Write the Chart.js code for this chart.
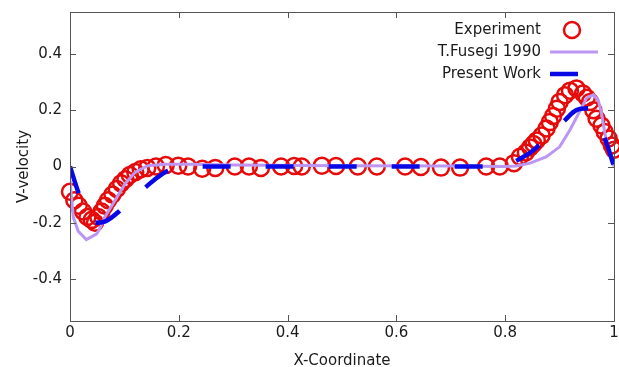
<!DOCTYPE html>
<html>
<head>
<meta charset="utf-8">
<script src="https://cdn.jsdelivr.net/npm/chart.js@4/dist/chart.umd.min.js"></script>
<style>
  body { margin: 0; background: #fff; }
  canvas { display: block; }
</style>
</head>
<body>
<canvas id="vChart" width="619" height="367"></canvas>
<script>
// axis ticks
const xTicks = [0, 0.2, 0.4, 0.6, 0.8, 1];
const yTicks = [-0.4, -0.2, 0, 0.2, 0.4];

// Experiment (circles)
const expX = [0.0, 0.008, 0.016, 0.024, 0.032, 0.04, 0.046, 0.052, 0.058, 0.064, 0.07, 0.078, 0.086, 0.094, 0.102, 0.11, 0.12, 0.13, 0.142, 0.158,
  0.176, 0.199, 0.217, 0.243, 0.267, 0.303, 0.329, 0.351, 0.388, 0.412, 0.426, 0.463, 0.489, 0.529, 0.564, 0.616, 0.645, 0.682, 0.717, 0.765, 0.79, 0.816,
  0.827, 0.838, 0.846, 0.852, 0.858, 0.867, 0.876, 0.882, 0.888, 0.895, 0.9, 0.91, 0.919, 0.931, 0.943, 0.95, 0.956, 0.962, 0.968, 0.977, 0.983, 0.99, 0.996, 1.0];
const expV = [-0.09, -0.12, -0.14, -0.16, -0.18, -0.19, -0.2, -0.18, -0.16, -0.14, -0.12, -0.1, -0.08, -0.06, -0.045, -0.03, -0.02, -0.01, -0.005, 0.0,
  0.005, 0.003, 0.0, -0.008, -0.005, 0.0, 0.0, -0.005, 0.0, 0.002, 0.0, 0.003, 0.002, 0.0, 0.0, 0.0, -0.002, -0.004, -0.004, 0.0, 0.0, 0.012,
  0.035, 0.05, 0.068, 0.08, 0.093, 0.11, 0.135, 0.158, 0.18, 0.206, 0.23, 0.254, 0.27, 0.278, 0.26, 0.245, 0.23, 0.2, 0.17, 0.146, 0.123, 0.1, 0.075, 0.06];

// T.Fusegi 1990
const fusX = [0, 0.006, 0.015, 0.03, 0.049, 0.055, 0.064, 0.083, 0.101, 0.12, 0.143, 0.175, 0.22, 0.3, 0.5, 0.7, 0.8, 0.82, 0.846, 0.876, 0.9, 0.919, 0.938, 0.95, 0.962, 0.971, 0.977, 0.983, 0.99, 1.0];
const fusV = [-0.05, -0.18, -0.23, -0.26, -0.24, -0.22, -0.18, -0.12, -0.062, -0.02, 0.003, 0.008, 0.008, 0.005, 0.003, 0.002, 0.0, 0.002, 0.012, 0.035, 0.07, 0.13, 0.2, 0.245, 0.255, 0.236, 0.19, 0.12, 0.06, 0.0];

// Present Work
const preX = [0, 0.015, 0.03, 0.045, 0.065, 0.09, 0.11, 0.135, 0.16, 0.18, 0.2, 0.25, 0.5, 0.8, 0.82, 0.85, 0.88, 0.91, 0.93, 0.955, 0.97, 0.985, 1.0];
const preV = [0, -0.09, -0.16, -0.2, -0.195, -0.16, -0.12, -0.08, -0.04, -0.015, -0.005, 0, 0, 0, 0.02, 0.055, 0.11, 0.165, 0.2, 0.207, 0.15, 0.09, 0];

const toPts = (xs, ys) => xs.map((x, i) => ({ x: x, y: ys[i] }));

const RED = '#e60a0a';
const PURPLE = '#bb96f2';
const BLUE = '#0808e6';
const FONT = 'DejaVu Sans';

// frame with inward ticks on all four sides (gnuplot style)
const framePlugin = {
  id: 'frame',
  afterDatasetsDraw(chart) {
    const { ctx, chartArea: a, scales } = chart;
    ctx.save();
    ctx.strokeStyle = '#555';
    ctx.lineWidth = 1;
    ctx.strokeRect(a.left + 0.5, a.top + 0.5, a.right - a.left, a.bottom - a.top);
    const tl = 6;
    ctx.beginPath();
    xTicks.forEach(v => {
      const px = Math.round(scales.x.getPixelForValue(v)) + 0.5;
      ctx.moveTo(px, a.bottom); ctx.lineTo(px, a.bottom - tl);
      ctx.moveTo(px, a.top); ctx.lineTo(px, a.top + tl);
    });
    yTicks.forEach(v => {
      const py = Math.round(scales.y.getPixelForValue(v)) + 0.5;
      ctx.moveTo(a.left, py); ctx.lineTo(a.left + tl, py);
      ctx.moveTo(a.right, py); ctx.lineTo(a.right - tl, py);
    });
    ctx.stroke();
    ctx.restore();
  }
};

// legend drawn like gnuplot: right aligned text, sample on the right
const keyPlugin = {
  id: 'key',
  afterDraw(chart) {
    const ctx = chart.ctx;
    const textX = 541, sx0 = 550;
    const rows = [30, 52, 74];
    const names = chart.data.datasets.map(d => d.label);
    ctx.save();
    ctx.font = '15px "' + FONT + '"';
    ctx.fillStyle = '#1a1a1a';
    ctx.textAlign = 'right';
    ctx.textBaseline = 'middle';
    names.forEach((n, i) => ctx.fillText(n, textX, rows[i]));
    ctx.strokeStyle = RED; ctx.lineWidth = 2.5;
    ctx.beginPath(); ctx.arc(572, rows[0], 8, 0, Math.PI * 2); ctx.stroke();
    ctx.strokeStyle = PURPLE; ctx.lineWidth = 3;
    ctx.beginPath(); ctx.moveTo(sx0, rows[1]); ctx.lineTo(598, rows[1]); ctx.stroke();
    ctx.strokeStyle = BLUE; ctx.lineWidth = 4.5;
    ctx.beginPath(); ctx.moveTo(sx0, rows[2]); ctx.lineTo(578, rows[2]); ctx.stroke();
    ctx.restore();
  }
};

const ctx = document.getElementById('vChart');

const vChart = new Chart(ctx, {
  type: 'scatter',
  data: {
    datasets: [{
      label: 'Experiment',
      data: toPts(expX, expV),
      showLine: false,
      pointStyle: 'circle',
      pointRadius: 8,
      pointBorderWidth: 2.5,
      pointBorderColor: RED,
      pointBackgroundColor: 'rgba(0,0,0,0)',
      clip: false,
      order: 3
    }, {
      label: 'T.Fusegi 1990',
      data: toPts(fusX, fusV),
      showLine: true,
      borderColor: PURPLE,
      borderWidth: 3,
      pointRadius: 0,
      order: 2
    }, {
      label: 'Present Work',
      data: toPts(preX, preV),
      showLine: true,
      borderColor: BLUE,
      borderWidth: 4.5,
      borderDash: [28, 35],
      borderCapStyle: 'butt',
      cubicInterpolationMode: 'monotone',
      pointRadius: 0,
      order: 1
    }]
  },
  options: {
    responsive: false,
    animation: false,
    layout: { autoPadding: false, padding: { left: 0, right: 0, top: 12, bottom: 0 } },
    plugins: {
      legend: { display: false },
      tooltip: { enabled: false }
    },
    scales: {
      x: {
        type: 'linear',
        min: 0,
        max: 1,
        grid: { display: false },
        border: { display: false },
        afterBuildTicks: s => { s.ticks = xTicks.map(v => ({ value: v })); },
        afterFit: s => { s.height = 46; s.paddingLeft = 0; s.paddingRight = 5; },
        ticks: {
          padding: -5,
          color: '#1a1a1a',
          font: { family: FONT, size: 15 },
          maxRotation: 0,
          callback: v => String(v)
        },
        title: {
          display: true,
          text: 'X-Coordinate',
          color: '#1a1a1a',
          font: { family: FONT, size: 15, lineHeight: 0.8 },
          padding: { top: 0, bottom: 0 }
        }
      },
      y: {
        type: 'linear',
        min: -0.55,
        max: 0.55,
        grid: { display: false },
        border: { display: false },
        afterBuildTicks: s => { s.ticks = yTicks.map(v => ({ value: v })); },
        afterFit: s => { s.width = 70; },
        ticks: {
          padding: 0,
          color: '#1a1a1a',
          font: { family: FONT, size: 15 },
          callback: v => String(v)
        },
        title: {
          display: true,
          text: 'V-velocity',
          color: '#1a1a1a',
          font: { family: FONT, size: 15, lineHeight: 1 },
          padding: { top: 17, bottom: 0 }
        }
      }
    }
  },
  plugins: [framePlugin, keyPlugin]
});
</script>
</body>
</html>
